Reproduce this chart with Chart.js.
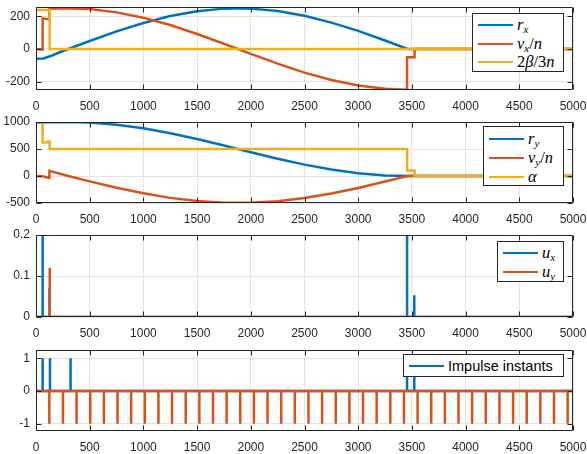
<!DOCTYPE html>
<html>
<head>
<meta charset="utf-8">
<script src="https://cdn.jsdelivr.net/npm/chart.js@4"></script>
<style>
  body { margin: 0; background: #fff; width: 587px; height: 454px; overflow: hidden; position: relative; }
  canvas { position: absolute; left: 0; }
  .legend { position: absolute; background: #fff; border: 1px solid #262626; box-sizing: border-box; z-index: 2; }
  .item { position: absolute; left: 0; right: 0; height: 0; }
  .swatch { position: absolute; left: 5px; width: 35px; height: 2px; top: -1px; }
  .lab { position: absolute; left: 44px; top: -10px; line-height: 20px; white-space: nowrap; color: #000;
         font-family: "Liberation Serif", "DejaVu Serif", serif; font-size: 16.5px; }
  .lab i { font-style: italic; }
  .lab sub { font-size: 11px; vertical-align: -3px; line-height: 0; }
  .lab.plain { font-family: "Liberation Sans", Arial, sans-serif; font-size: 14.5px; color: #000; }
</style>
</head>
<body>
<canvas id="c1" width="587" height="114" style="top:0px"></canvas>
<canvas id="c2" width="587" height="113" style="top:114px"></canvas>
<canvas id="c3" width="587" height="114" style="top:227px"></canvas>
<canvas id="c4" width="587" height="113" style="top:342px"></canvas>

<div class="legend" style="left:472px;top:13px;width:92px;height:59px">
  <div class="item" style="top:11px"><span class="swatch" style="background:#0072BD"></span><span class="lab"><i>r</i><sub><i>x</i></sub></span></div>
  <div class="item" style="top:30px"><span class="swatch" style="background:#D95319"></span><span class="lab"><i>v</i><sub><i>x</i></sub>/<i>n</i></span></div>
  <div class="item" style="top:48px"><span class="swatch" style="background:#EDB120"></span><span class="lab">2<i>β</i>/3<i>n</i></span></div>
</div>
<div class="legend" style="left:483px;top:126px;width:81px;height:60px">
  <div class="item" style="top:12px"><span class="swatch" style="background:#0072BD"></span><span class="lab"><i>r</i><sub><i>y</i></sub></span></div>
  <div class="item" style="top:31px"><span class="swatch" style="background:#D95319"></span><span class="lab"><i>v</i><sub><i>y</i></sub>/<i>n</i></span></div>
  <div class="item" style="top:50px"><span class="swatch" style="background:#EDB120"></span><span class="lab"><i>α</i></span></div>
</div>
<div class="legend" style="left:497px;top:241px;width:67px;height:41px">
  <div class="item" style="top:11px"><span class="swatch" style="background:#0072BD"></span><span class="lab"><i>u</i><sub><i>x</i></sub></span></div>
  <div class="item" style="top:30px"><span class="swatch" style="background:#D95319"></span><span class="lab"><i>u</i><sub><i>y</i></sub></span></div>
</div>
<div class="legend" style="left:403px;top:354px;width:161px;height:23px">
  <div class="item" style="top:11px"><span class="swatch" style="background:#0072BD"></span><span class="lab plain">Impulse instants</span></div>
</div>

<script>
// shared x axis
const xTicks = [0, 500, 1000, 1500, 2000, 2500, 3000, 3500, 4000, 4500, 5000];

// panel 1: r_x, v_x/n, 2beta/3n
const rxTime  = [0, 70, 150, 220, 300, 500, 750, 1000, 1250, 1500, 1750, 1900, 2000, 2250, 2500, 2750, 3000, 3250, 3460, 5000];
const rxValue = [-60, -58, -40, -20, 0, 49, 108, 160, 203, 232, 248, 250, 248, 233, 204, 162, 111, 52, 0, 0];
const vxTime  = [0, 62, 62, 125, 125, 300, 500, 750, 1000, 1250, 1500, 1750, 1880, 2000, 2250, 2500, 2750, 3000, 3250, 3455, 3455, 3525, 3525, 5000];
const vxValue = [0, -3, 188, 182, 248, 250, 245, 225, 192, 147, 92, 32, 0, -30, -90, -145, -190, -224, -245, -250, -50, -50, 0, 0];
const betaTime  = [0, 127, 127, 5000];
const betaValue = [240, 240, 0, 0];
const yTicks1 = [-200, 0, 200];

// panel 2: r_y, v_y/n, alpha
const ryTime  = [0, 150, 300, 500, 750, 1000, 1250, 1500, 1750, 2000, 2250, 2500, 2750, 3000, 3250, 3460, 5000];
const ryValue = [990, 997, 1000, 990, 951, 884, 793, 684, 564, 440, 320, 211, 120, 52, 11, 0, 0];
const vyTime  = [0, 62, 122, 125, 300, 500, 750, 1000, 1250, 1500, 1750, 2000, 2250, 2500, 2750, 3000, 3250, 3460, 5000];
const vyValue = [0, -5, -35, 95, 0, -99, -216, -321, -405, -465, -496, -496, -467, -408, -324, -221, -103, 0, 0];
const alphaTime  = [0, 62, 62, 110, 110, 127, 127, 3455, 3455, 3525, 3525, 5000];
const alphaValue = [1000, 1000, 620, 620, 640, 640, 500, 500, 100, 100, 0, 0];
const yTicks2 = [-500, 0, 500, 1000];

// panel 3: u_x, u_y pulses
const uxTime   = [62, 126, 3455, 3522];
const uxHeight = [0.25, 0.072, 0.25, 0.053];
const uyTime   = [128];
const uyHeight = [0.12];
const yTicks3 = [0, 0.1, 0.2];

// panel 4: impulse instants
const impulseTime = [62, 130, 322, 3455, 3522];
const impulseHeight = [1, 1, 1, 1, 1];
const stepTime = [124, 251, 378, 505, 632, 759, 886, 1013, 1140, 1267, 1394, 1521, 1648, 1775, 1902,
                  2029, 2156, 2283, 2410, 2537, 2664, 2791, 2918, 3045, 3172, 3299, 3426, 3553, 3680,
                  3807, 3934, 4061, 4188, 4315, 4442, 4569, 4696, 4823, 4950];
const stepHeight = stepTime.map(() => -1);
const yTicks4 = [-1, 0, 1];

const BLUE = '#0072BD', ORANGE = '#D95319', YELLOW = '#EDB120';
const TXT = '#262626', GRID = '#e3e3e3';

function pts(times, values) {
  return times.map((t, i) => ({ x: t, y: values[i] }));
}

// vertical pulses on a zero baseline
function pulses(times, heights) {
  const out = [{ x: 0, y: 0 }];
  times.forEach((t, i) => {
    out.push({ x: t, y: 0 }, { x: t, y: heights[i] }, { x: t, y: 0 });
  });
  out.push({ x: 5000, y: 0 });
  return out;
}

function line(data, color, order) {
  return { data: data, borderColor: color, backgroundColor: color, borderWidth: 2.5,
           pointRadius: 0, tension: 0, fill: false, order: order, borderCapStyle: 'butt' };
}

// MATLAB-like box with inward tick marks
const axesBox = {
  id: 'axesBox',
  afterDatasetsDraw(chart) {
    const { ctx, chartArea: a, scales } = chart;
    const L = Math.round(a.left) + 0.5, R = Math.round(a.right) - 0.5;
    const T = Math.round(a.top) + 0.5, B = Math.round(a.bottom) - 0.5;
    ctx.save();
    ctx.strokeStyle = TXT;
    ctx.lineWidth = 1;
    ctx.beginPath();
    ctx.rect(L, T, R - L, B - T);
    scales.x.ticks.forEach(t => {
      const px = Math.round(scales.x.getPixelForValue(t.value)) + 0.5;
      ctx.moveTo(px, B); ctx.lineTo(px, B - 5);
      ctx.moveTo(px, T); ctx.lineTo(px, T + 5);
    });
    scales.y.ticks.forEach(t => {
      const py = Math.round(scales.y.getPixelForValue(t.value)) + 0.5;
      ctx.moveTo(L, py); ctx.lineTo(L + 5, py);
      ctx.moveTo(R, py); ctx.lineTo(R - 5, py);
    });
    ctx.stroke();
    ctx.restore();
  }
};

function makePanel(id, datasets, yMin, yMax, yTicks, padTop) {
  const font = { family: '"Liberation Sans", Arial, sans-serif', size: 12 };
  return new Chart(document.getElementById(id), {
    type: 'line',
    data: { datasets: datasets },
    options: {
      animation: false,
      responsive: false,
      devicePixelRatio: 1,
      layout: { padding: { top: padTop, right: 14, left: 0, bottom: 0 } },
      plugins: { legend: { display: false }, tooltip: { enabled: false } },
      scales: {
        x: {
          type: 'linear', min: 0, max: 5000,
          afterBuildTicks: s => { s.ticks = xTicks.map(v => ({ value: v })); },
          afterFit: s => { s.height = 24; s.paddingLeft = 0; s.paddingRight = 0; },
          grid: { color: GRID, drawTicks: false },
          border: { display: false },
          ticks: { padding: 9, maxRotation: 0, autoSkip: false, color: TXT, font: font,
                   callback: v => String(v) }
        },
        y: {
          type: 'linear', min: yMin, max: yMax,
          afterBuildTicks: s => { s.ticks = yTicks.map(v => ({ value: v })); },
          afterFit: s => { s.width = 36; s.paddingTop = 0; s.paddingBottom = 0; },
          grid: { color: GRID, drawTicks: false },
          border: { display: false },
          ticks: { padding: 6, autoSkip: false, color: TXT, font: font,
                   callback: v => String(v) }
        }
      }
    },
    plugins: [axesBox]
  });
}

makePanel('c1', [
  line(pts(rxTime, rxValue), BLUE, 3),
  line(pts(vxTime, vxValue), ORANGE, 2),
  line(pts(betaTime, betaValue), YELLOW, 1)
], -252, 258, yTicks1, 7);

makePanel('c2', [
  line(pts(ryTime, ryValue), BLUE, 3),
  line(pts(vyTime, vyValue), ORANGE, 2),
  line(pts(alphaTime, alphaValue), YELLOW, 1)
], -500, 1000, yTicks2, 8);

makePanel('c3', [
  line(pulses(uxTime, uxHeight), BLUE, 2),
  line(pulses(uyTime, uyHeight), ORANGE, 1)
], 0, 0.2, yTicks3, 8);

makePanel('c4', [
  line(pulses(impulseTime, impulseHeight), BLUE, 2),
  line(pulses(stepTime, stepHeight), ORANGE, 1)
], -1.22, 1.25, yTicks4, 8);
</script>
</body>
</html>
